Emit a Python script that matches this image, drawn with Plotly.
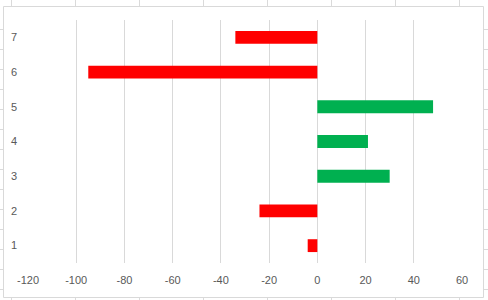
import plotly.graph_objects as go

categories = [1, 2, 3, 4, 5, 6, 7]
values = [-4, -24, 30, 21, 48, -95, -34]
x_ticks = [-120, -100, -80, -60, -40, -20, 0, 20, 40, 60]

colors = ["#00B050" if v >= 0 else "#FF0000" for v in values]

fig = go.Figure(go.Bar(
    x=values, y=categories, orientation="h",
    marker=dict(color=colors, line=dict(width=0)),
))

W, H = 488, 300
L, R, T, B = 28, 26, 20, 37
pw, ph = W - L - R, H - T - B

def px(xp):
    return (xp - L) / pw

def py(yp):
    return (H - B - yp) / ph

shapes = [
    dict(type="rect", xref="paper", yref="paper",
         x0=px(3.5), x1=px(483.5), y0=py(297.5), y1=py(6.5),
         line=dict(color="#D9D9D9", width=1), fillcolor="rgba(0,0,0,0)",
         layer="below"),
]
# spreadsheet cell lines peeking around the chart frame
cell_line = dict(color="#DADADA", width=1)
for cx in [11.5, 75.5, 139.5, 203.5, 267.5, 331.5, 395.5, 459.5]:
    shapes.append(dict(type="line", xref="paper", yref="paper",
                       x0=px(cx), x1=px(cx), y0=py(0), y1=py(6), line=cell_line))
    shapes.append(dict(type="line", xref="paper", yref="paper",
                       x0=px(cx), x1=px(cx), y0=py(298), y1=py(300), line=cell_line))
for cy in [29.5, 49.5, 69.5, 89.5, 109.5, 129.5, 149.5, 169.5, 189.5, 209.5,
           229.5, 249.5, 269.5, 289.5]:
    shapes.append(dict(type="line", xref="paper", yref="paper",
                       x0=px(0), x1=px(3), y0=py(cy), y1=py(cy), line=cell_line))
    shapes.append(dict(type="line", xref="paper", yref="paper",
                       x0=px(484), x1=px(488), y0=py(cy), y1=py(cy), line=cell_line))

fig.update_layout(
    width=W, height=H,
    margin=dict(l=L, r=R, t=T, b=B),
    paper_bgcolor="white", plot_bgcolor="white",
    bargap=0.63,
    showlegend=False,
    font=dict(family="Liberation Sans, Arial, sans-serif", size=11, color="#595959"),
    xaxis=dict(
        range=[-120, 60], tickvals=x_ticks, ticktext=[str(t) for t in x_ticks],
        showgrid=True, gridcolor="#D9D9D9", gridwidth=1,
        zeroline=False, showline=False, ticks="", ticklen=0,
        tickfont=dict(size=11, color="#595959"),
        ticklabelstandoff=9,
    ),
    yaxis=dict(
        range=[0.5, 7.5], tickvals=categories, ticktext=[str(c) for c in categories],
        showgrid=False, zeroline=False, showline=False, ticks="",
        tickfont=dict(size=11, color="#595959"),
        ticklabelstandoff=10,
    ),
    shapes=shapes,
)

fig.write_html("out.html")
